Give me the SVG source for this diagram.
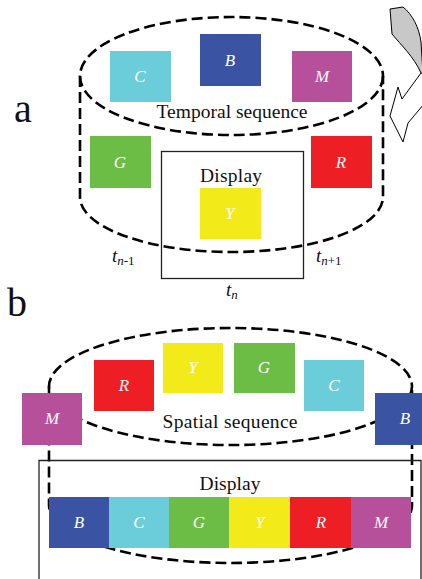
<svg xmlns="http://www.w3.org/2000/svg" width="422" height="579" viewBox="0 0 422 579" font-family="'Liberation Serif', 'DejaVu Serif', serif">
<style>
.dash{fill:none;stroke:#000;stroke-width:2.6;stroke-dasharray:11 5}
.box{fill:none;stroke:#222;stroke-width:1.3}
text{font-family:"Liberation Serif","DejaVu Serif",serif}
.lt{font-style:italic;font-size:17px;fill:#fff;text-anchor:middle}
.lab{font-size:19.5px;fill:#111;text-anchor:middle}
.big{font-size:40px;fill:#111}
.tt{font-style:italic;font-size:19px;fill:#111}
.c{fill:#6ccdda}.b{fill:#3a53a3}.m{fill:#b7509b}.g{fill:#6bbd45}.r{fill:#ed1f24}.y{fill:#f2ea19}
</style>
<rect width="422" height="579" fill="#fff"/>
<g id="connectors">
  <ellipse class="dash" cx="231.5" cy="76" rx="151.5" ry="59"/>
  <path class="dash" d="M80,76 V197 A151.5,55 0 0 0 383,197 V76"/>
  <ellipse class="dash" cx="230.5" cy="386.5" rx="181.5" ry="58.5"/>
  <path class="dash" d="M49,386.5 V505 A181.5,58 0 0 0 412,505 V386.5"/>
</g>
<g id="arrow">
  <path d="M390,9 L403,7 C412,14 419,27 421,42 L423,74 L421,73 C414,57 401,45 392,34 Z" fill="#c8c8c8" stroke="#000" stroke-width="1"/>
  <path d="M421,73 L402,99 L398,87 L390,116 L403,142 L408,123 L424,104" fill="#fff" stroke="#000" stroke-width="1"/>
</g>
<g id="label-a"><text class="big" x="14" y="122">a</text></g>
<g id="label-b"><text class="big" x="7" y="316">b</text></g>
<g id="temporal-label"><text class="lab" x="232" y="118" textLength="151">Temporal sequence</text></g>
<g id="display-a">
  <rect class="box" x="161.5" y="151.5" width="142" height="127"/>
  <text class="lab" x="231" y="182" textLength="62">Display</text>
</g>
<g id="a-C"><rect class="c" x="110" y="51" width="61" height="51"/><text class="lt" x="140" y="82">C</text></g>
<g id="a-B"><rect class="b" x="200" y="34" width="61" height="52"/><text class="lt" x="230" y="66">B</text></g>
<g id="a-M"><rect class="m" x="292" y="51" width="60" height="51"/><text class="lt" x="322" y="82">M</text></g>
<g id="a-G"><rect class="g" x="90" y="136" width="61" height="52"/><text class="lt" x="120" y="168">G</text></g>
<g id="a-R"><rect class="r" x="311" y="136" width="61" height="52"/><text class="lt" x="341" y="168">R</text></g>
<g id="a-Y"><rect class="y" x="200" y="188" width="61" height="51"/><text class="lt" x="230" y="219">Y</text></g>
<g id="t-labels">
  <text class="tt" x="112" y="262">t<tspan font-size="13" dy="3">n</tspan><tspan font-size="13" font-style="normal">-1</tspan></text>
  <text class="tt" x="316" y="262">t<tspan font-size="13" dy="3">n</tspan><tspan font-size="13" font-style="normal">+1</tspan></text>
  <text class="tt" x="226" y="296">t<tspan font-size="13" dy="3">n</tspan></text>
</g>
<g id="spatial-label"><text class="lab" x="230" y="428" textLength="135">Spatial sequence</text></g>
<g id="b-R"><rect class="r" x="94" y="360" width="60" height="51"/><text class="lt" x="124" y="391">R</text></g>
<g id="b-Y"><rect class="y" x="163" y="343" width="60" height="50"/><text class="lt" x="193" y="373">Y</text></g>
<g id="b-G"><rect class="g" x="234" y="343" width="61" height="50"/><text class="lt" x="264" y="373">G</text></g>
<g id="b-C"><rect class="c" x="304" y="360" width="60" height="51"/><text class="lt" x="334" y="391">C</text></g>
<g id="b-M"><rect class="m" x="22" y="393" width="60" height="52"/><text class="lt" x="52" y="424">M</text></g>
<g id="b-B"><rect class="b" x="375" y="393" width="47" height="52"/><text class="lt" x="405" y="424">B</text></g>
<g id="display-b">
  <path class="box" d="M39,579 V460.5 H421 V579"/>
  <text class="lab" x="230" y="490" textLength="61">Display</text>
</g>
<g id="row-B"><rect class="b" x="49" y="497" width="61" height="51"/><text class="lt" x="79" y="528">B</text></g>
<g id="row-C"><rect class="c" x="109" y="497" width="61" height="51"/><text class="lt" x="139" y="528">C</text></g>
<g id="row-G"><rect class="g" x="169" y="497" width="61" height="51"/><text class="lt" x="199" y="528">G</text></g>
<g id="row-Y"><rect class="y" x="229" y="497" width="62" height="51"/><text class="lt" x="260" y="528">Y</text></g>
<g id="row-R"><rect class="r" x="290" y="497" width="62" height="51"/><text class="lt" x="321" y="528">R</text></g>
<g id="row-M"><rect class="m" x="351" y="497" width="60" height="51"/><text class="lt" x="381" y="528">M</text></g>
</svg>
